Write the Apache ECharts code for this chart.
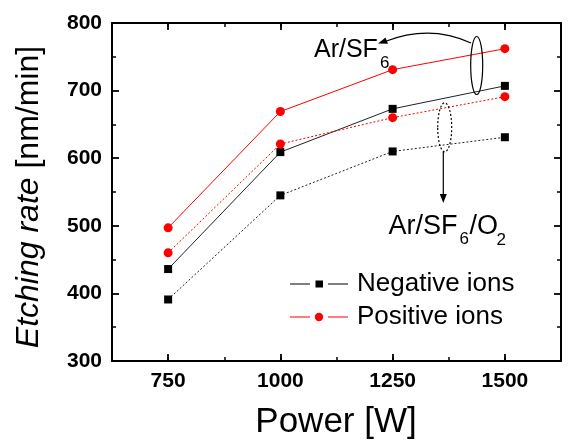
<!DOCTYPE html>
<html>
<head>
<meta charset="utf-8">
<script src="https://cdn.jsdelivr.net/npm/echarts@6/dist/echarts.min.js"></script>
<style>
html,body{margin:0;padding:0;background:#fff;}
#chart{width:572px;height:442px;}
</style>
</head>
<body>
<div id="chart"></div>
<script>
// Data
const powers = [750, 1000, 1250, 1500];
const negArSF6 = [436, 609, 673, 707];
const posArSF6 = [497, 669, 731, 762];
const negArSF6O2 = [391, 545, 610, 631];
const posArSF6O2 = [460, 621, 660, 691];
const xMajorTicks = [750, 1000, 1250, 1500];
const legendNames = ['Negative ions', 'Positive ions'];

const FONT = 'Liberation Sans, Arial, sans-serif';
const pairs = (ys) => powers.map((x, i) => [x, ys[i]]);

const chart = echarts.init(document.getElementById('chart'), null, {renderer: 'canvas'});

const axisLineStyle = {color: '#000', width: 2};
const xBase = {type: 'value', min: 625, max: 1625, splitLine: {show: false}};
const yBase = {type: 'value', min: 300, max: 800, interval: 100, splitLine: {show: false}};

const option = {
  animation: false,
  backgroundColor: '#fff',
  grid: {left: 112, right: 11, top: 23, bottom: 81, containLabel: false},
  xAxis: [
    Object.assign({}, xBase, {
      position: 'bottom',
      axisLine: {show: true, lineStyle: axisLineStyle},
      axisTick: {show: true, inside: true, length: 7, customValues: xMajorTicks, lineStyle: {width: 1.8, color: '#000'}},
      axisLabel: {show: true, customValues: xMajorTicks, formatter: (v) => String(v), margin: 10, color: '#000', fontSize: 21, fontWeight: 'bold', fontFamily: FONT}
    }),
    Object.assign({}, xBase, {
      position: 'bottom', interval: 125,
      axisLine: {show: false},
      axisTick: {show: true, inside: true, length: 4, lineStyle: {width: 1.5, color: '#000'}},
      axisLabel: {show: false}
    }),
    Object.assign({}, xBase, {
      position: 'top',
      axisLine: {show: true, lineStyle: axisLineStyle},
      axisTick: {show: true, inside: true, length: 7, customValues: xMajorTicks, lineStyle: {width: 1.8, color: '#000'}},
      axisLabel: {show: false}
    }),
    Object.assign({}, xBase, {
      position: 'top', interval: 125,
      axisLine: {show: false},
      axisTick: {show: true, inside: true, length: 4, lineStyle: {width: 1.5, color: '#000'}},
      axisLabel: {show: false}
    })
  ],
  yAxis: [
    Object.assign({}, yBase, {
      position: 'left',
      axisLine: {show: true, lineStyle: axisLineStyle},
      axisTick: {show: true, inside: true, length: 7, lineStyle: {width: 1.8, color: '#000'}},
      minorTick: {show: true, splitNumber: 2, length: 4, lineStyle: {width: 1.5, color: '#000'}},
      axisLabel: {show: true, formatter: (v) => String(v), margin: 10, color: '#000', fontSize: 21, fontWeight: 'bold', fontFamily: FONT}
    }),
    Object.assign({}, yBase, {
      position: 'right',
      axisLine: {show: true, lineStyle: axisLineStyle},
      axisTick: {show: true, inside: true, length: 7, lineStyle: {width: 1.8, color: '#000'}},
      minorTick: {show: true, splitNumber: 2, length: 4, lineStyle: {width: 1.5, color: '#000'}},
      axisLabel: {show: false}
    })
  ],
  legend: {
    orient: 'vertical',
    left: 290, top: 271,
    padding: 0,
    itemGap: 7,
    itemWidth: 58, itemHeight: 9,
    selectedMode: false,
    textStyle: {fontSize: 26, lineHeight: 26, color: '#000', fontFamily: FONT, padding: [0, 0, 0, 4]},
    data: [
      {name: legendNames[0], icon: 'path://M0,4h20v1h-20z M25.5,1h7.5v7h-7.5z M38,4h20v1h-20z'},
      {name: legendNames[1], icon: 'path://M0,4h20v1h-20z M24.8,4.5a4.2,4.2 0 1,0 8.4,0a4.2,4.2 0 1,0 -8.4,0z M38,4h20v1h-20z'}
    ]
  },
  series: [
    {name: legendNames[0], type: 'line', data: pairs(negArSF6), symbol: 'rect', symbolSize: 8,
      itemStyle: {color: '#000'}, lineStyle: {color: '#222', width: 1, type: 'solid'}, z: 3},
    {name: legendNames[1], type: 'line', data: pairs(posArSF6), symbol: 'circle', symbolSize: 9,
      itemStyle: {color: '#ff0000'}, lineStyle: {color: '#ff0000', width: 1, type: 'solid'}, z: 3},
    {name: legendNames[0], type: 'line', data: pairs(negArSF6O2), symbol: 'rect', symbolSize: 8,
      itemStyle: {color: '#000'}, lineStyle: {color: '#222', width: 1, type: [2, 2]}, z: 3},
    {name: legendNames[1], type: 'line', data: pairs(posArSF6O2), symbol: 'circle', symbolSize: 9,
      itemStyle: {color: '#ff0000'}, lineStyle: {color: '#ff0000', width: 1, type: [2, 2]}, z: 3}
  ],
  graphic: [
    // Y axis title
    {type: 'text', x: 29, y: 197, rotation: Math.PI / 2,
      style: {text: '{i|Etching rate} [nm/min]', align: 'center', verticalAlign: 'middle',
        fontSize: 32, fontFamily: FONT, fill: '#000',
        rich: {i: {fontStyle: 'italic', fontSize: 32, fontFamily: FONT, fill: '#000'}}}},
    // X axis title
    {type: 'text', x: 336, y: 422,
      style: {text: 'Power [W]', align: 'center', verticalAlign: 'middle', fontSize: 35, fontFamily: FONT, fill: '#000'}},
    // Ar/SF6 label
    {type: 'text', x: 314, y: 50,
      style: {text: 'Ar/SF', align: 'left', verticalAlign: 'middle', fontSize: 25, fontFamily: FONT, fill: '#000'}},
    {type: 'text', x: 380, y: 63.5,
      style: {text: '6', align: 'left', verticalAlign: 'middle', fontSize: 17, fontFamily: FONT, fill: '#000'}},
    // Ar/SF6/O2 label
    {type: 'text', x: 388.5, y: 227,
      style: {text: 'Ar/SF', align: 'left', verticalAlign: 'middle', fontSize: 27, fontFamily: FONT, fill: '#000'}},
    {type: 'text', x: 459.5, y: 239.5,
      style: {text: '6', align: 'left', verticalAlign: 'middle', fontSize: 17, fontFamily: FONT, fill: '#000'}},
    {type: 'text', x: 469.5, y: 227,
      style: {text: '/O', align: 'left', verticalAlign: 'middle', fontSize: 27, fontFamily: FONT, fill: '#000'}},
    {type: 'text', x: 496.5, y: 240,
      style: {text: '2', align: 'left', verticalAlign: 'middle', fontSize: 17, fontFamily: FONT, fill: '#000'}},
    // solid ellipse
    {type: 'ellipse', shape: {cx: 476.7, cy: 65.5, rx: 6, ry: 29},
      style: {fill: 'none', stroke: '#000', lineWidth: 1.2}, z: 10},
    // curved arrow
    {type: 'bezierCurve', shape: {x1: 471, y1: 43, x2: 385, y2: 41.5, cpx1: 430, cpy1: 24},
      style: {fill: 'none', stroke: '#000', lineWidth: 1.2}, z: 10},
    {type: 'polygon', shape: {points: [[378, 43.5], [388, 43.8], [385.5, 37.5]]},
      style: {fill: '#000'}, z: 10},
    // dotted ellipse
    {type: 'ellipse', shape: {cx: 444.7, cy: 127.3, rx: 7, ry: 24.5},
      style: {fill: 'none', stroke: '#000', lineWidth: 1.2, lineDash: [2, 2]}, z: 10},
    // down arrow
    {type: 'line', shape: {x1: 443.3, y1: 152, x2: 443.3, y2: 196},
      style: {stroke: '#000', lineWidth: 1.2}, z: 10},
    {type: 'polygon', shape: {points: [[443.3, 203], [439.8, 194], [446.8, 194]]},
      style: {fill: '#000'}, z: 10}
  ]
};
chart.setOption(option);
</script>
</body>
</html>
